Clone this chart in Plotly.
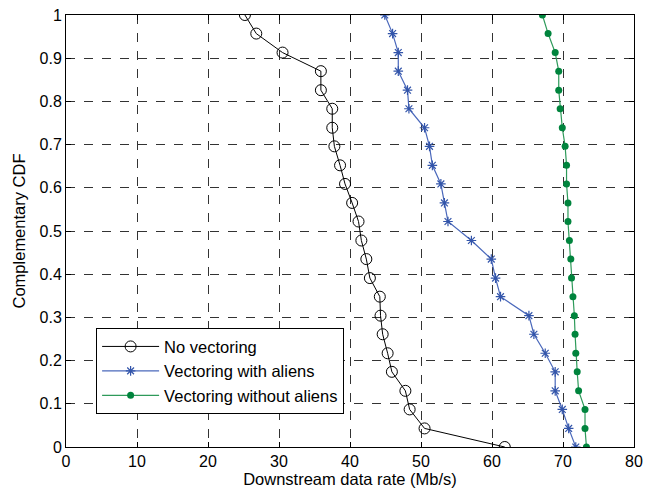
import plotly.graph_objects as go

ccdf = [1.0, 0.957, 0.913, 0.870, 0.826, 0.783, 0.739, 0.696, 0.652, 0.609, 0.565, 0.522,
        0.478, 0.435, 0.391, 0.348, 0.304, 0.261, 0.217, 0.174, 0.130, 0.087, 0.043, 0.0]

no_vectoring = [25.2, 26.8, 30.5, 35.9, 35.9, 37.5, 37.5, 37.8, 38.6, 39.3, 40.3, 41.2,
                41.6, 42.3, 42.8, 44.2, 44.3, 44.6, 45.3, 45.9, 47.8, 48.4, 50.5, 61.8]
vect_aliens = [44.9, 46.0, 46.8, 46.8, 48.1, 48.3, 50.5, 51.2, 51.6, 52.8, 53.3, 53.8,
               57.1, 59.9, 60.5, 61.2, 65.2, 65.9, 67.5, 68.9, 68.9, 69.9, 70.8, 71.8]
vect_no_aliens = [67.1, 67.9, 68.9, 69.4, 69.4, 69.6, 69.9, 70.3, 70.5, 70.5, 70.7, 70.7,
                  70.9, 71.1, 71.2, 71.4, 71.6, 71.7, 71.8, 72.0, 72.2, 73.1, 73.1, 73.3]

names = ["No vectoring", "Vectoring with aliens", "Vectoring without aliens"]
x_ticks = [0, 10, 20, 30, 40, 50, 60, 70, 80]
y_ticks = [0, 0.1, 0.2, 0.3, 0.4, 0.5, 0.6, 0.7, 0.8, 0.9, 1]
y_tick_text = ["0", "0.1", "0.2", "0.3", "0.4", "0.5", "0.6", "0.7", "0.8", "0.9", "1"]

fig = go.Figure()
fig.add_trace(go.Scatter(
    x=no_vectoring, y=ccdf, name=names[0], mode="lines+markers",
    line=dict(color="black", width=1),
    marker=dict(symbol="circle-open", size=11, color="black", line=dict(width=1))))
fig.add_trace(go.Scatter(
    x=vect_aliens, y=ccdf, name=names[1], mode="lines+markers",
    line=dict(color="#4a68bb", width=1.2),
    marker=dict(symbol="asterisk-open", size=8, color="#3355aa", line=dict(width=1.2, color="#3355aa"))))
fig.add_trace(go.Scatter(
    x=vect_no_aliens, y=ccdf, name=names[2], mode="lines+markers",
    line=dict(color="#2e9a5a", width=1.2),
    marker=dict(symbol="circle", size=7, color="#00843d")))

axis_common = dict(
    showline=True, linecolor="black", linewidth=1, mirror="allticks",
    ticks="inside", ticklen=5, tickcolor="black",
    showgrid=True, gridcolor="#333333", gridwidth=1, griddash="dash",
    zeroline=False, tickfont=dict(size=16, color="black"), automargin=False,
)

fig.update_xaxes(range=[0, 80], tickvals=x_ticks,
                 title=dict(text="Downstream data rate (Mb/s)", font=dict(size=16.5, color="black"), standoff=4),
                 **axis_common)
fig.update_yaxes(range=[0, 1], tickvals=y_ticks, ticktext=y_tick_text,
                 title=dict(text="Complementary CDF", font=dict(size=16.5, color="black"), standoff=9),
                 **axis_common)

fig.update_layout(
    width=645, height=491,
    margin=dict(l=66, r=11, t=15, b=44),
    paper_bgcolor="white", plot_bgcolor="white",
    font=dict(family="Liberation Sans, Arial, sans-serif", color="black"),
    legend=dict(x=0.053, y=0.275, xanchor="left", yanchor="top",
                bgcolor="white", bordercolor="black", borderwidth=1,
                font=dict(size=16.5), traceorder="normal", itemwidth=57),
)

fig.write_html("out.html", config={"displayModeBar": False},
               post_script="document.body.style.margin='0';document.body.style.overflow='hidden';")
